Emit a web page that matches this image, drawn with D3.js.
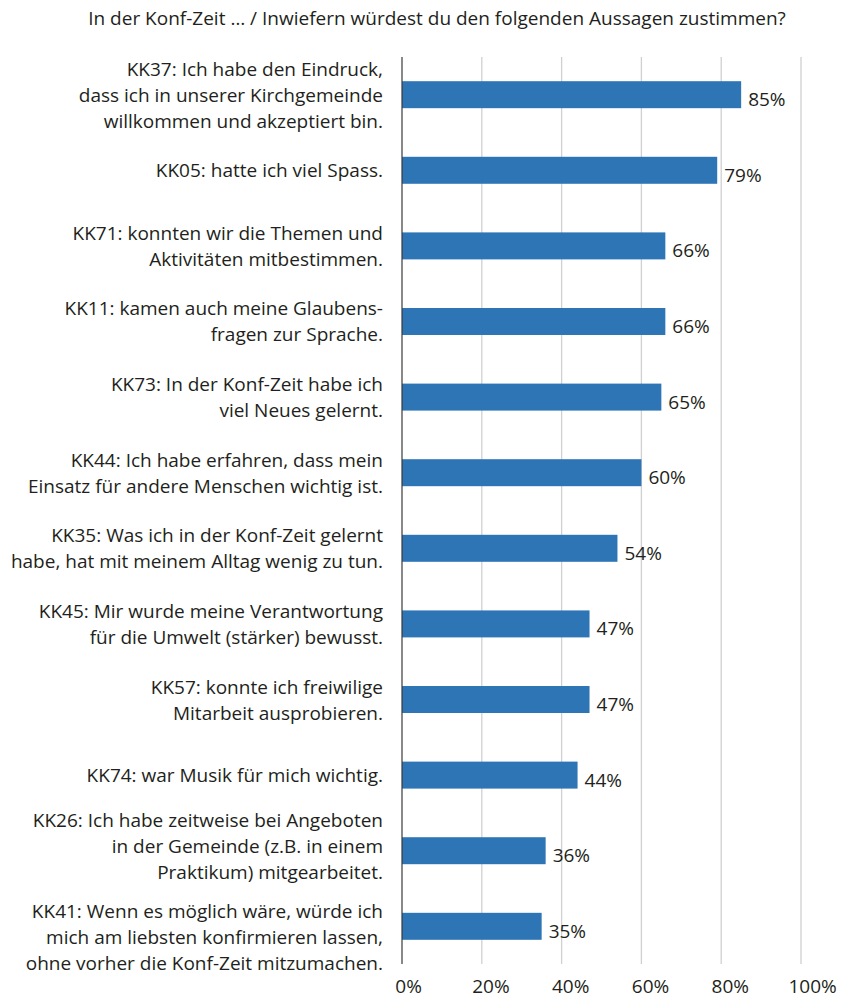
<!DOCTYPE html>
<html>
<head>
<meta charset="utf-8">
<script src="https://cdn.jsdelivr.net/npm/d3@7"></script>
<style>
  html, body { margin: 0; padding: 0; background: #fff; }
  svg { display: block; }
  text { font-family: "Open Sans", sans-serif; fill: #231f20; }
</style>
</head>
<body>
<svg id="chart" width="842" height="999"></svg>
<script>
// Statements (each entry lists its display lines)
const categories = [
  ["KK37: Ich habe den Eindruck,", "dass ich in unserer Kirchgemeinde", "willkommen und akzeptiert bin."],
  ["KK05: hatte ich viel Spass."],
  ["KK71: konnten wir die Themen und", "Aktivitäten mitbestimmen."],
  ["KK11: kamen auch meine Glaubens-", "fragen zur Sprache."],
  ["KK73: In der Konf-Zeit habe ich", "viel Neues gelernt."],
  ["KK44: Ich habe erfahren, dass mein", "Einsatz für andere Menschen wichtig ist."],
  ["KK35: Was ich in der Konf-Zeit gelernt", "habe, hat mit meinem Alltag wenig zu tun."],
  ["KK45: Mir wurde meine Verantwortung", "für die Umwelt (stärker) bewusst."],
  ["KK57: konnte ich freiwilige", "Mitarbeit ausprobieren."],
  ["KK74: war Musik für mich wichtig."],
  ["KK26: Ich habe zeitweise bei Angeboten", "in der Gemeinde (z.B. in einem", "Praktikum) mitgearbeitet."],
  ["KK41: Wenn es möglich wäre, würde ich", "mich am liebsten konfirmieren lassen,", "ohne vorher die Konf-Zeit mitzumachen."]
];
// Share of agreement in percent
const values = [85, 79, 66, 66, 65, 60, 54, 47, 47, 44, 36, 35];
const xTicks = [0, 20, 40, 60, 80, 100];
const title = "In der Konf-Zeit … / Inwiefern würdest du den folgenden Aussagen zustimmen?";

const svg = d3.select("#chart");
const margin = { top: 57, left: 402, right: 41, bottom: 35 };
const width = 842, height = 999;
const innerW = width - margin.left - margin.right;
const innerH = height - margin.top - margin.bottom;
const fontSize = 19;

const rows = categories.map((c, i) => ({ id: i, lines: c, value: values[i] }));

const x = d3.scaleLinear().domain([0, 100]).range([margin.left, margin.left + innerW]);
const y = d3.scaleBand().domain(rows.map(d => d.id)).range([margin.top, margin.top + innerH]).paddingInner(0.643).paddingOuter(0.32);

// Title
svg.append("text")
  .attr("x", 437).attr("y", 25)
  .attr("text-anchor", "middle")
  .style("font-size", fontSize + "px")
  .text(title);

// Vertical gridlines
svg.append("g")
  .selectAll("line")
  .data(xTicks.filter(t => t > 0))
  .join("line")
  .attr("x1", d => x(d)).attr("x2", d => x(d))
  .attr("y1", margin.top).attr("y2", margin.top + innerH)
  .attr("stroke", "#d0d0d0").attr("stroke-width", 1.3);

// Bars
svg.append("g")
  .selectAll("rect")
  .data(rows)
  .join("rect")
  .attr("x", x(0))
  .attr("y", d => y(d.id))
  .attr("width", d => x(d.value) - x(0))
  .attr("height", y.bandwidth())
  .attr("fill", "#2e75b6");

// Value labels
svg.append("g")
  .selectAll("text")
  .data(rows)
  .join("text")
  .attr("x", d => x(d.value) + 7)
  .attr("y", d => y(d.id) + y.bandwidth() / 2 + 11.5)
  .style("font-size", fontSize + "px")
  .text(d => d.value + "%");

// Category axis line
svg.append("line")
  .attr("x1", x(0)).attr("x2", x(0))
  .attr("y1", margin.top).attr("y2", margin.top + innerH)
  .attr("stroke", "#3a3a3a").attr("stroke-width", 1.2);

// Category labels (multi-line, vertically centred on each bar;
// the two bottom three-line labels are nudged apart so they don't crowd)
const lineH = 26;
const labelNudge = { 10: -5, 11: 11 };
const labels = svg.append("g")
  .selectAll("text")
  .data(rows)
  .join("text")
  .attr("text-anchor", "end")
  .style("font-size", fontSize + "px")
  .attr("transform", d => `translate(${x(0) - 19},${y(d.id) + y.bandwidth() / 2 + (labelNudge[d.id] || 0)})`);
labels.selectAll("tspan")
  .data(d => d.lines.map((l, i) => ({ l, i, n: d.lines.length })))
  .join("tspan")
  .attr("x", 0)
  .attr("y", t => (t.i - (t.n - 1) / 2) * lineH + 7)
  .text(t => t.l);

// X axis tick labels
const xAxis = d3.axisBottom(x).tickValues(xTicks).tickFormat(d => d + "%").tickSize(0).tickPadding(0);
const gx = svg.append("g")
  .attr("transform", `translate(0,${margin.top + innerH})`)
  .call(xAxis);
gx.select(".domain").remove();
gx.selectAll("text")
  .attr("y", 29)
  .attr("dy", 0)
  .style("font-size", fontSize + "px")
  .style("font-family", "'Open Sans', sans-serif")
  .attr("fill", "#231f20")
  .attr("dx", function () { return 0.23 * this.getComputedTextLength(); });
</script>
</body>
</html>
